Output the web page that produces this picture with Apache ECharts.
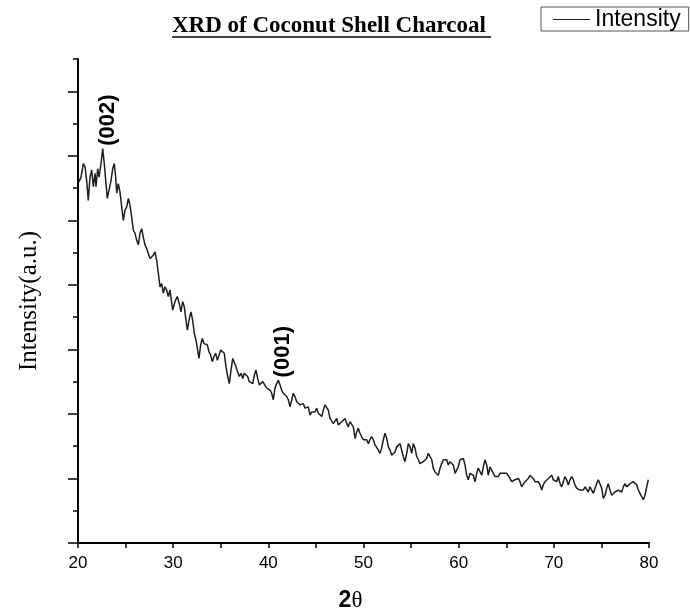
<!DOCTYPE html>
<html>
<head>
<meta charset="utf-8">
<title>XRD of Coconut Shell Charcoal</title>
<script src="https://cdn.jsdelivr.net/npm/echarts@6/dist/echarts.min.js"></script>
<style>
  html, body { margin: 0; padding: 0; background: #fff; }
  #chart { width: 690px; height: 615px; }
</style>
</head>
<body>
<div id="chart"></div>
<script>
// 2theta (deg)
const twoTheta = [
  20.11, 20.32, 20.56, 20.74, 20.91, 21.08, 21.26, 21.44, 21.61, 21.79, 21.89, 22.07, 22.21, 22.42, 22.60, 22.76, 22.91, 23.08, 23.29, 23.47,
  23.65, 23.81, 23.96, 24.07, 24.23, 24.41, 24.59, 24.76, 24.94, 25.12, 25.29, 25.46, 25.64, 25.81, 25.99, 26.17, 26.34, 26.51, 26.69, 26.86,
  27.04, 27.22, 27.39, 27.57, 27.74, 27.91, 28.09, 28.27, 28.44, 28.62, 28.80, 28.96, 29.14, 29.32, 29.49, 29.67, 29.95, 30.19, 30.43, 30.64,
  30.82, 31.00, 31.17, 31.35, 31.49, 31.70, 31.87, 32.05, 32.22, 32.40, 32.54, 32.71, 32.89, 33.06, 33.24, 33.42, 33.59, 33.77, 33.94, 34.11,
  34.29, 34.47, 34.64, 34.82, 35.00, 35.21, 35.37, 35.55, 35.73, 35.90, 36.08, 36.26, 36.42, 36.60, 36.78, 36.95, 37.13, 37.31, 37.47, 37.65,
  37.83, 38.00, 38.18, 38.36, 38.53, 38.70, 38.88, 39.05, 39.23, 39.41, 39.58, 39.83, 40.00, 40.18, 40.35, 40.52, 40.70, 40.88, 41.05, 41.23,
  41.40, 41.57, 41.75, 41.93, 42.10, 42.28, 42.46, 42.62, 42.80, 42.98, 43.15, 43.33, 43.51, 43.67, 43.85, 44.03, 44.20, 44.38, 44.56, 44.73,
  44.90, 45.08, 45.25, 45.43, 45.61, 45.78, 45.95, 46.13, 46.30, 46.48, 46.66, 46.83, 47.01, 47.18, 47.35, 47.53, 47.71, 47.88, 48.06, 48.24,
  48.40, 48.58, 48.76, 48.93, 49.11, 49.29, 49.45, 49.63, 49.81, 49.98, 50.16, 50.34, 50.51, 50.68, 50.86, 51.03, 51.21, 51.39, 51.56, 51.73,
  51.91, 52.08, 52.26, 52.44, 52.61, 52.79, 52.96, 53.13, 53.31, 53.49, 53.66, 53.84, 54.01, 54.18, 54.36, 54.54, 54.71, 54.89, 55.07, 55.23,
  55.41, 55.59, 55.76, 55.94, 56.12, 56.28, 56.46, 56.64, 56.81, 56.99, 57.17, 57.33, 57.51, 57.69, 57.86, 58.04, 58.22, 58.39, 58.56, 58.74,
  58.91, 59.09, 59.27, 59.44, 59.62, 59.79, 59.96, 60.14, 60.32, 60.49, 60.67, 60.84, 61.01, 61.19, 61.37, 61.54, 61.72, 61.90, 62.06, 62.24,
  62.42, 62.59, 62.77, 62.95, 63.11, 63.29, 63.47, 63.64, 63.82, 64.00, 64.17, 64.34, 64.52, 64.69, 64.87, 65.05, 65.22, 65.39, 65.57, 65.74,
  65.92, 66.10, 66.27, 66.45, 66.62, 66.79, 66.97, 67.15, 67.32, 67.50, 67.67, 67.84, 68.02, 68.20, 68.37, 68.55, 68.73, 68.89, 69.07, 69.25,
  69.42, 69.60, 69.78, 69.94, 70.12, 70.30, 70.47, 70.65, 70.83, 71.00, 71.17, 71.35, 71.52, 71.70, 71.88, 72.05, 72.22, 72.40, 72.57, 72.75,
  72.93, 73.10, 73.28, 73.45, 73.62, 73.80, 73.98, 74.15, 74.33, 74.50, 74.67, 74.85, 75.03, 75.20, 75.38, 75.56, 75.72, 75.90, 76.08, 76.25,
  76.43, 76.61, 76.78, 76.95, 77.13, 77.30, 77.48, 77.66, 77.83, 78.00, 78.18, 78.35, 78.53, 78.71, 78.88, 79.06, 79.23, 79.40, 79.58, 79.76,
  79.93
]

// intensity (a.u.), same order
const intensity = [
  560, 567, 588, 583, 562, 531, 567, 578, 552, 573, 552, 580, 567, 588, 611, 588, 562, 534, 536, 562,
  580, 588, 567, 542, 557, 544, 521, 500, 516, 521, 534, 524, 505, 485, 480, 469, 462, 480, 487, 474,
  462, 456, 454, 441, 438, 446, 451, 438, 418, 397, 402, 387, 397, 392, 382, 392, 361, 374, 382, 371,
  358, 374, 366, 345, 330, 348, 358, 345, 325, 314, 302, 286, 307, 317, 309, 312, 307, 296, 291, 281,
  289, 294, 283, 281, 299, 302, 294, 273, 258, 247, 268, 286, 283, 273, 265, 258, 263, 255, 263, 265,
  258, 250, 252, 247, 260, 268, 255, 245, 242, 250, 247, 240, 242, 237, 232, 222, 240, 247, 252, 245,
  237, 232, 234, 227, 222, 211, 222, 232, 227, 219, 222, 214, 211, 216, 209, 206, 211, 198, 203, 206,
  203, 209, 201, 203, 196, 206, 214, 216, 206, 193, 191, 185, 188, 193, 183, 180, 188, 191, 193, 185,
  180, 188, 191, 180, 162, 172, 178, 170, 170, 160, 157, 160, 154, 160, 165, 160, 152, 149, 144, 139,
  147, 160, 170, 162, 149, 144, 136, 134, 141, 149, 152, 154, 157, 134, 126, 139, 154, 149, 139, 154,
  147, 134, 129, 123, 121, 126, 126, 131, 139, 141, 129, 116, 110, 113, 105, 116, 123, 129, 126, 129,
  121, 126, 129, 121, 108, 105, 118, 129, 126, 131, 121, 105, 98, 108, 110, 105, 95, 108, 116, 113,
  105, 118, 129, 121, 105, 118, 113, 108, 103, 100, 103, 108, 110, 108, 108, 108, 105, 100, 95, 98,
  98, 95, 100, 95, 87, 90, 95, 98, 100, 105, 108, 100, 95, 98, 95, 90, 82, 90, 95, 92,
  100, 103, 105, 98, 100, 95, 103, 92, 87, 95, 103, 98, 90, 98, 103, 98, 90, 85, 82, 82,
  79, 82, 87, 85, 79, 87, 85, 77, 85, 92, 98, 100, 85, 69, 74, 85, 92, 82, 74, 77,
  79, 79, 82, 85, 79, 87, 92, 87, 85, 92, 90, 95, 98, 90, 82, 79, 72, 67, 74, 87,
  98
]

const xTicks = [20, 30, 40, 50, 60, 70, 80]
const yMajorTicks = [0, 100, 200, 300, 400, 500, 600, 700]
const yMinorTicks = [50, 150, 250, 350, 450, 550, 650, 750]

// peak labels: [2theta, intensity, text]
const peaks = [
  [22.60, 611, '(002)'],
  [41.05, 252, '(001)']
]

const chart = echarts.init(document.getElementById('chart'))
const seriesData = twoTheta.map((t, i) => [t, intensity[i]])

const sans = 'Liberation Sans, Arial, sans-serif'
const serif = 'Liberation Serif, Times New Roman, serif'
const ink = '#1e1e1e'

const option = {
  animation: false,
  backgroundColor: '#fff',
  title: {
    text: 'XRD of Coconut Shell Charcoal',
    left: 172,
    top: 15,
    padding: 0,
    textStyle: {
      fontFamily: serif,
      fontWeight: 'bold',
      fontSize: 23,
      color: '#000'
    }
  },
  legend: {
    data: [{ name: 'Intensity', icon: 'rect' }],
    left: 541,
    top: 7,
    padding: [1, 8, 0, 12],
    borderColor: '#555',
    borderWidth: 1,
    itemWidth: 37,
    itemHeight: 1.2,
    itemStyle: { color: ink },
    textStyle: {
      fontFamily: sans,
      fontSize: 23,
      color: '#000'
    }
  },
  grid: {
    left: 78,
    right: 41,
    top: 59,
    bottom: 72,
    containLabel: false,
    outerBoundsMode: 'none'
  },
  xAxis: {
    type: 'value',
    min: 20,
    max: 80,
    interval: 5,
    name: '{a|2}{b|θ}',
    nameLocation: 'middle',
    nameGap: 46,
    nameTextStyle: {
      padding: [0, 26, 0, 0],
      rich: {
        a: { fontFamily: sans, fontWeight: 'bold', fontSize: 23, color: '#000' },
        b: { fontFamily: serif, fontSize: 23, color: '#000' }
      }
    },
    axisLine: { lineStyle: { color: '#000', width: 2 } },
    axisTick: { length: 5, lineStyle: { color: '#000', width: 1.5 } },
    axisLabel: {
      margin: 12,
      fontFamily: sans,
      fontSize: 17,
      color: '#000',
      formatter: v => (xTicks.indexOf(v) >= 0 ? String(v) : '')
    },
    splitLine: { show: false }
  },
  yAxis: [
    {
      type: 'value',
      min: 0,
      max: 750,
      name: 'Intensity(a.u.)',
      nameLocation: 'middle',
      nameGap: 36,
      nameTextStyle: { fontFamily: serif, fontSize: 25, color: '#000' },
      axisLine: { show: true, lineStyle: { color: '#000', width: 2 } },
      axisTick: { show: true, length: 10, customValues: yMajorTicks, lineStyle: { color: '#000', width: 1.5 } },
      axisLabel: { show: false },
      splitLine: { show: false }
    },
    {
      type: 'value',
      min: 0,
      max: 750,
      position: 'left',
      axisLine: { show: false },
      axisTick: { show: true, length: 5, customValues: yMinorTicks, lineStyle: { color: '#000', width: 1.5 } },
      axisLabel: { show: false },
      splitLine: { show: false }
    }
  ],
  series: [
    {
      name: 'Intensity',
      type: 'line',
      symbol: 'none',
      showSymbol: false,
      lineStyle: { color: ink, width: 1.5 },
      itemStyle: { color: ink },
      data: seriesData
    }
  ],
  graphic: [
    {
      type: 'line',
      shape: { x1: 172, y1: 37, x2: 491, y2: 37 },
      style: { stroke: '#000', lineWidth: 1.5 }
    }
  ]
}

chart.setOption(option)

// put the peak indices just above their peaks, reading upward
const peakLabels = peaks.map(p => {
  const pt = chart.convertToPixel({ gridIndex: 0 }, [p[0], p[1]])
  return {
    type: 'text',
    x: pt[0] + 5,
    y: pt[1] - 3,
    rotation: Math.PI / 2,
    style: {
      text: p[2],
      fill: '#000',
      font: 'bold 22px ' + sans,
      textAlign: 'left',
      textVerticalAlign: 'middle'
    }
  }
})
chart.setOption({ graphic: option.graphic.concat(peakLabels) })
</script>
</body>
</html>
